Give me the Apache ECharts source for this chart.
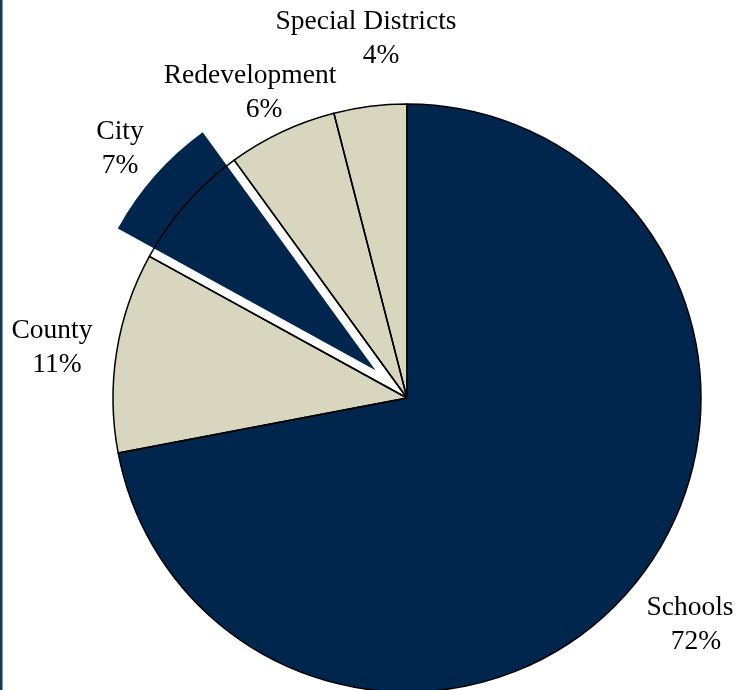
<!DOCTYPE html>
<html>
<head>
<meta charset="utf-8">
<style>
  html, body { margin: 0; padding: 0; background: #fff; }
  #chart { width: 749px; height: 690px; }
</style>
<script src="https://cdn.jsdelivr.net/npm/echarts@6/dist/echarts.min.js"></script>
</head>
<body>
<div id="chart"></div>
<script>
// Share of property tax revenue by recipient
const categories = ['Schools', 'County', 'City', 'Redevelopment', 'Special Districts'];
const shares = [72, 11, 7, 6, 4];
const highlighted = 'City';

const NAVY = '#00264D';
const BEIGE = '#D9D6BF';
const sliceColors = { 'Schools': NAVY, 'County': BEIGE, 'City': NAVY, 'Redevelopment': BEIGE, 'Special Districts': BEIGE };

// label block centres, and horizontal nudge of the percentage line
const labelSpots = {
  'Schools': [690, 625],
  'County': [52, 348],
  'City': [120, 149],
  'Redevelopment': [250, 93],
  'Special Districts': [366, 39]
};
const pctNudge = { 'Schools': 6, 'County': 5, 'City': 0, 'Redevelopment': 14, 'Special Districts': 15 };

const CENTER = [407, 398];
const RADIUS = 294;
const FONT = '"Liberation Serif", "Times New Roman", serif';

const chart = echarts.init(document.getElementById('chart'), null, { renderer: 'canvas' });

const fillData = categories.map((name, i) => ({
  name,
  value: shares[i],
  selected: name === highlighted,
  itemStyle: { color: sliceColors[name] }
}));

// outline layer carries the labels so they stay put when a slice is pulled out
const outlineData = categories.map((name, i) => ({
  name,
  value: shares[i],
  label: {
    rich: {
      n: { fontFamily: FONT, fontSize: 27.5, lineHeight: 34, color: '#000', align: 'center' },
      p: { fontFamily: FONT, fontSize: 27.5, lineHeight: 34, color: '#000', align: 'center',
           padding: [0, 0, 0, 2 * pctNudge[name]] }
    }
  }
}));

chart.setOption({
  animation: false,
  backgroundColor: '#fff',
  graphic: [{
    type: 'rect',
    shape: { x: 0, y: 0, width: 2.5, height: 690 },
    style: { fill: '#17375E' },
    z: 100
  }],
  series: [
    {
      type: 'pie',
      center: CENTER,
      radius: RADIUS,
      startAngle: 90,
      clockwise: true,
      selectedMode: 'single',
      selectedOffset: 42,
      silent: true,
      z: 1,
      itemStyle: { borderWidth: 0 },
      emphasis: { disabled: true },
      label: { show: false },
      labelLine: { show: false },
      data: fillData
    },
    {
      type: 'pie',
      center: CENTER,
      radius: RADIUS,
      startAngle: 90,
      clockwise: true,
      silent: true,
      z: 2,
      itemStyle: { color: 'rgba(0,0,0,0)', borderColor: '#000', borderWidth: 1.5 },
      emphasis: { disabled: true },
      label: {
        show: true,
        position: 'outside',
        overflow: 'none',
        formatter: '{n|{b}}\n{p|{d}%}',
        fontFamily: FONT,
        fontSize: 27.5,
        lineHeight: 34,
        color: '#000',
        align: 'center'
      },
      labelLine: { show: false },
      labelLayout: function (params) {
        const p = labelSpots[categories[params.dataIndex]];
        return { x: p[0], y: p[1], align: 'center', verticalAlign: 'middle' };
      },
      data: outlineData
    }
  ]
});
</script>
</body>
</html>
